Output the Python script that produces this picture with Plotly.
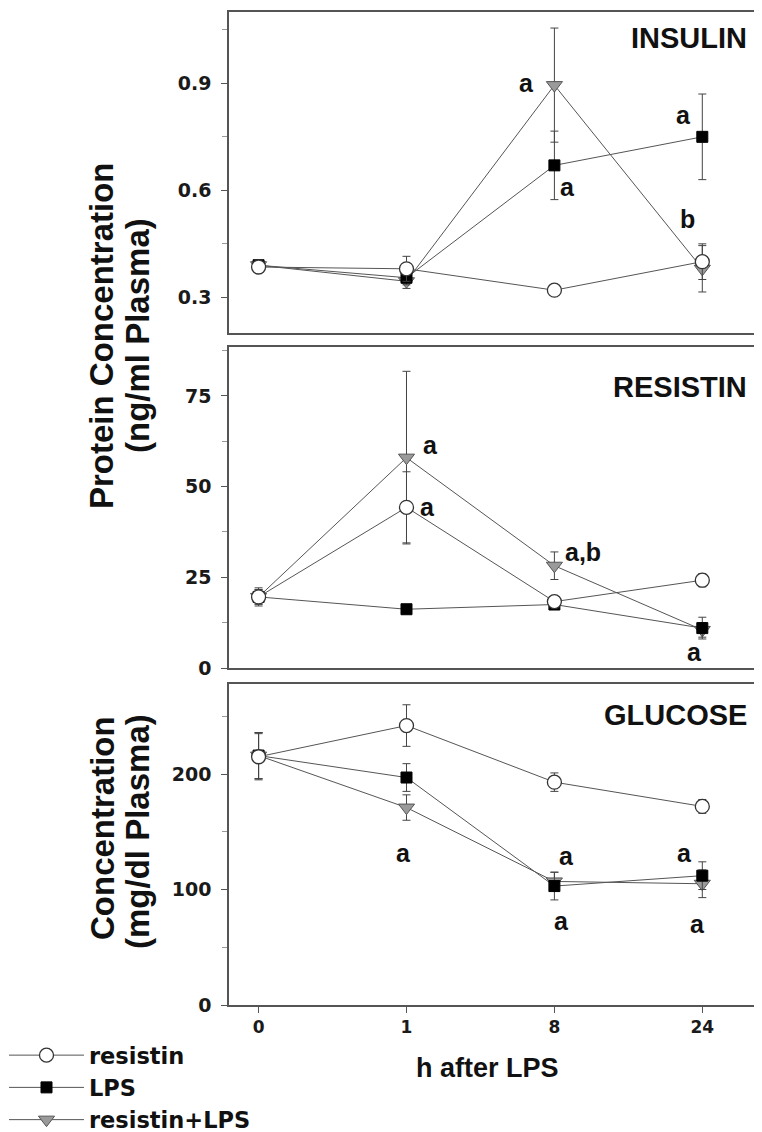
import plotly.graph_objects as go

hours = ["0", "1", "8", "24"]
series_names = ["resistin", "LPS", "resistin+LPS"]

insulin_resistin = [0.385, 0.38, 0.32, 0.40]
insulin_resistin_err = [0.012, 0.035, 0.008, 0.05]
insulin_lps = [0.39, 0.355, 0.67, 0.75]
insulin_lps_err = [0.012, 0.02, 0.096, 0.12]
insulin_combo = [0.39, 0.345, 0.895, 0.38]
insulin_combo_err = [0.012, 0.02, 0.16, 0.065]

resistin_resistin = [19.6, 44.3, 18.3, 24.2]
resistin_resistin_err = [2.5, 9.8, 1.2, 1.8]
resistin_lps = [19.6, 16.2, 17.5, 11.0]
resistin_lps_err = [2.0, 1.0, 1.0, 3.0]
resistin_combo = [19.6, 58.0, 28.2, 10.5]
resistin_combo_err = [2.0, 23.8, 3.8, 2.0]

glucose_resistin = [215, 242, 193, 172]
glucose_resistin_err = [20, 18, 8, 6]
glucose_lps = [216, 197, 103, 112]
glucose_lps_err = [20, 12, 12, 12]
glucose_combo = [216, 171, 107, 105]
glucose_combo_err = [20, 11, 8, 12]

panel_titles = ["INSULIN", "RESISTIN", "GLUCOSE"]

# significance letters: (panel, x position in category units, y value, text)
sig_panel = [1, 1, 1, 1, 2, 2, 2, 2, 3, 3, 3, 3, 3]
sig_x = [1.81, 2.09, 2.87, 2.90, 1.16, 1.14, 2.19, 2.95, 0.98, 2.08, 2.88, 2.05, 2.97]
sig_y = [0.9, 0.61, 0.81, 0.52, 61.5, 44.5, 32, 4.5, 132, 129, 132, 73, 70.5]
sig_text = ["a", "a", "a", "b", "a", "a", "a,b", "a", "a", "a", "a", "a", "a"]

LINE = "#555555"
AXIS = "#555555"
FONT = "Liberation Sans"
TICKFONT = "DejaVu Sans"

styles = {
    "resistin": dict(symbol="circle", size=14, color="white", line=dict(color="#333333", width=1.3)),
    "LPS": dict(symbol="square", size=11, color="black", line=dict(color="black", width=1)),
    "resistin+LPS": dict(symbol="triangle-down", size=14, color="#9a9a9a", line=dict(color="#555555", width=1)),
}

panels = [
    {"resistin": (insulin_resistin, insulin_resistin_err), "LPS": (insulin_lps, insulin_lps_err),
     "resistin+LPS": (insulin_combo, insulin_combo_err)},
    {"resistin": (resistin_resistin, resistin_resistin_err), "LPS": (resistin_lps, resistin_lps_err),
     "resistin+LPS": (resistin_combo, resistin_combo_err)},
    {"resistin": (glucose_resistin, glucose_resistin_err), "LPS": (glucose_lps, glucose_lps_err),
     "resistin+LPS": (glucose_combo, glucose_combo_err)},
]

fig = go.Figure()
draw_order = ["resistin+LPS", "LPS", "resistin"]
rank = {"resistin": 1, "LPS": 2, "resistin+LPS": 3}
for p, pdata in enumerate(panels):
    ax = "" if p == 0 else str(p + 1)
    for name in draw_order:
        vals, errs = pdata[name]
        fig.add_trace(go.Scatter(
            x=hours, y=vals, name=name, mode="lines+markers",
            line=dict(color=LINE, width=1),
            marker=styles[name],
            error_y=dict(type="data", array=errs, color="#444444", thickness=1, width=4),
            xaxis="x" + ax, yaxis="y" + ax,
            showlegend=(p == 2), legendrank=rank[name],
        ))

# page body has an 8px margin: screen px = figure px + 8
W, H = 762, 1132
L, R, T, B = 221, 10, 4, 135
PW = W - L - R
PH = H - T - B


def yp(screen_y):
    return (1005 - screen_y) / PH


def xp(screen_x):
    return (screen_x - 229) / PW


yd = [[yp(333), yp(12)], [yp(668), yp(347)], [yp(1005), yp(684)]]
yranges = [[0.2, 1.1], [0, 88.5], [0, 278]]
ydticks = [0.3, 25, 100]
yminor = [0.15, 12.5, 50]
yfmt = [".1f", "d", "d"]

ytickfont = dict(family=TICKFONT, size=19, color="#1a1a1a", weight="bold")
xtickfont = dict(family=TICKFONT, size=17, color="#1a1a1a", weight="bold")
layout = dict(
    width=W, height=H, margin=dict(l=L, r=R, t=T, b=B, autoexpand=False),
    paper_bgcolor="white", plot_bgcolor="white",
    font=dict(family=FONT, color="#222222"),
)
for p in range(3):
    ax = "" if p == 0 else str(p + 1)
    layout["xaxis" + ax] = dict(
        type="category", range=[-0.2, 3.39], domain=[0, 1], anchor="y" + ax,
        showline=True, linecolor=AXIS, linewidth=1.5, mirror=True,
        showgrid=False, zeroline=False,
        ticks="outside" if p == 2 else "", ticklen=6, tickcolor=AXIS,
        showticklabels=(p == 2), tickfont=xtickfont,
    )
    layout["yaxis" + ax] = dict(
        domain=yd[p], range=yranges[p], anchor="x" + ax,
        showline=True, linecolor=AXIS, linewidth=1.5, mirror=True,
        showgrid=False, zeroline=False,
        tick0=0, dtick=ydticks[p], tickformat=yfmt[p],
        ticks="outside", ticklen=6, tickcolor=AXIS, tickfont=ytickfont,
        ticklabelstandoff=6,
        minor=dict(dtick=yminor[p], tick0=0, ticks="outside", ticklen=5, tickcolor="#999999"),
    )

fig.update_layout(**layout)

title_y = [yp(38), yp(387), yp(715)]
annotations = []
for p in range(3):
    annotations.append(dict(
        text=panel_titles[p], xref="paper", yref="paper", x=xp(749), y=title_y[p],
        xanchor="right", yanchor="middle", showarrow=False,
        font=dict(family=FONT, size=29, weight="bold", color="#111111"),
    ))
for pn, sx, sy, st in zip(sig_panel, sig_x, sig_y, sig_text):
    ax = "" if pn == 1 else str(pn)
    annotations.append(dict(
        text=st, xref="x" + ax, yref="y" + ax, x=sx, y=sy,
        xanchor="center", yanchor="middle", showarrow=False,
        font=dict(family=FONT, size=25, weight="bold", color="#111111"),
    ))

# y axis titles (two lines each)
ytitle_font = dict(family=FONT, size=33, weight="bold", color="#111111")
ytitles = [("Protein Concentration", 102, 336), ("(ng/ml Plasma)", 138, 336),
           ("Concentration", 102, 828), ("(mg/dl Plasma)", 138, 832)]
for txt, sx, sy in ytitles:
    annotations.append(dict(
        text=txt, xref="paper", yref="paper", x=xp(sx), y=yp(sy),
        xanchor="center", yanchor="middle", textangle=-90, showarrow=False,
        font=ytitle_font,
    ))
# x axis title
annotations.append(dict(
    text="h after LPS", xref="paper", yref="paper", x=xp(487), y=yp(1068),
    xanchor="center", yanchor="middle", showarrow=False,
    font=dict(family=FONT, size=27, weight="bold", color="#111111"),
))
fig.update_layout(annotations=annotations)

fig.update_layout(legend=dict(
    x=xp(4), y=yp(1034), xanchor="left", yanchor="top",
    font=dict(family=TICKFONT, size=22.5, weight="bold", color="#111111"),
    bgcolor="rgba(0,0,0,0)", tracegroupgap=0, itemwidth=75,
))

fig.write_html("out.html")
